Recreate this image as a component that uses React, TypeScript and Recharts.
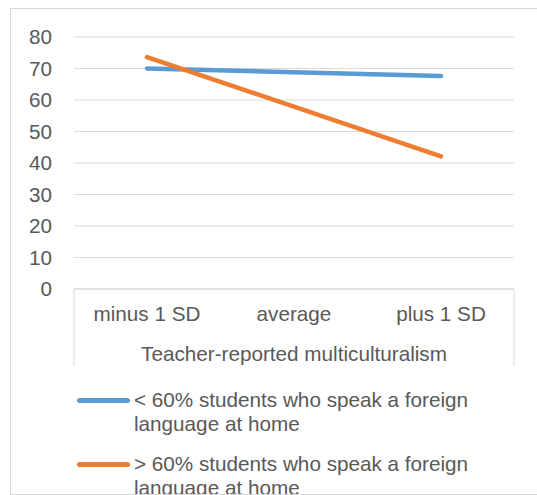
import { CartesianGrid, Legend, Line, LineChart, XAxis, YAxis } from "recharts";

const CATEGORIES = ["minus 1 SD", "average", "plus 1 SD"];
const LOW_SHARE = [70, 68.8, 67.6];
const HIGH_SHARE = [73.6, 57.9, 42.1];
const Y_TICKS = [0, 10, 20, 30, 40, 50, 60, 70, 80];

const LOW_NAME = "< 60% students who speak a foreign language at home";
const HIGH_NAME = "> 60% students who speak a foreign language at home";
const AXIS_TITLE = "Teacher-reported multiculturalism";

const BLUE = "#5B9BD5";
const ORANGE = "#ED7D31";
const TEXT = "#595959";
const GRID = "#D9D9D9";
const FONT_SIZE = 20.7;

const data = CATEGORIES.map((label, i) => ({
  label,
  low: LOW_SHARE[i],
  high: HIGH_SHARE[i],
}));

// Category labels under the axis line
function CategoryTick({ x, y, payload }: any) {
  return (
    <text
      x={x}
      y={y + 24}
      textAnchor="middle"
      dominantBaseline="central"
      fill={TEXT}
      fontSize={FONT_SIZE}
    >
      {payload.value}
    </text>
  );
}

// Excel-style box around the category axis, with the axis title inside
function AxisFrame({ viewBox }: any) {
  const { x, y, width, height } = viewBox;
  return (
    <g>
      <line x1={x} y1={y} x2={x} y2={y + height} stroke={GRID} />
      <line x1={x + width} y1={y} x2={x + width} y2={y + height} stroke={GRID} />
      <text
        x={x + width / 2}
        y={y + 64}
        textAnchor="middle"
        dominantBaseline="central"
        fill={TEXT}
        fontSize={FONT_SIZE}
      >
        {AXIS_TITLE}
      </text>
    </g>
  );
}

function LegendList({ payload }: any) {
  return (
    <div style={{ color: TEXT, fontSize: FONT_SIZE, lineHeight: "24px" }}>
      {(payload ?? []).map((item: any) => (
        <div
          key={item.value}
          style={{ display: "flex", alignItems: "flex-start", marginBottom: 16 }}
        >
          <span
            style={{
              width: 53,
              height: 5,
              borderRadius: 3,
              background: item.color,
              marginTop: 9.5,
              flexShrink: 0,
            }}
          />
          <span style={{ marginLeft: 4, width: 350 }}>{item.value}</span>
        </div>
      ))}
    </div>
  );
}

export default function App() {
  return (
    <div style={{ padding: "8px 0 0 10px", width: 527, height: 487 }}>
      <style>{"body { margin: 0; overflow: hidden; }"}</style>
      <div
        style={{
          width: 527,
          height: 487,
          border: `1px solid ${GRID}`,
          borderRight: "none",
          boxSizing: "border-box",
          overflow: "hidden",
          fontFamily: "'Liberation Sans', Arial, sans-serif",
          background: "#fff",
        }}
      >
        <LineChart
          width={526}
          height={485}
          data={data}
          margin={{ top: 28, right: 23, left: 0, bottom: 128 }}
        >
          <CartesianGrid stroke={GRID} vertical={false} />
          <XAxis
            dataKey="label"
            height={77}
            padding={{ left: 73, right: 73 }}
            axisLine={{ stroke: GRID }}
            tickLine={false}
            tickSize={0}
            tickMargin={0}
            tick={<CategoryTick />}
            label={(props: any) => <AxisFrame {...props} />}
          />
          <YAxis
            width={63}
            domain={[0, 80]}
            ticks={Y_TICKS}
            axisLine={false}
            tickLine={false}
            tickSize={0}
            tickMargin={22}
            tick={{ fill: TEXT, fontSize: FONT_SIZE }}
          />
          <Legend
            layout="horizontal"
            verticalAlign="middle"
            align="center"
            wrapperStyle={{ left: 66, top: 379, width: 420 }}
            content={<LegendList />}
          />
          <Line
            dataKey="low"
            name={LOW_NAME}
            stroke={BLUE}
            strokeWidth={4.5}
            strokeLinecap="round"
            dot={false}
            activeDot={false}
            isAnimationActive={false}
          />
          <Line
            dataKey="high"
            name={HIGH_NAME}
            stroke={ORANGE}
            strokeWidth={4.5}
            strokeLinecap="round"
            dot={false}
            activeDot={false}
            isAnimationActive={false}
          />
        </LineChart>
      </div>
    </div>
  );
}
